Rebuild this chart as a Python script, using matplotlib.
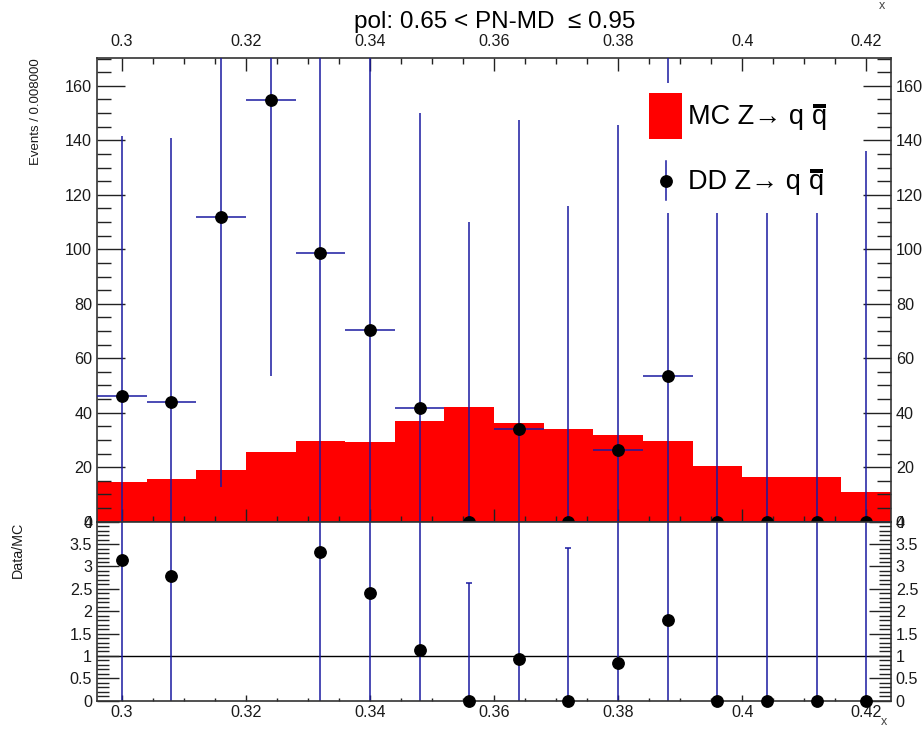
import numpy as np
import matplotlib
matplotlib.use("Agg")
import matplotlib.pyplot as plt
from matplotlib.ticker import FixedLocator, FuncFormatter
from matplotlib.patches import Rectangle

plt.rcParams['font.family'] = ['Liberation Sans', 'DejaVu Sans']

# ---------------- data ----------------
bin_edges = [0.296, 0.304, 0.312, 0.320, 0.328, 0.336, 0.344, 0.352, 0.360,
             0.368, 0.376, 0.384, 0.392, 0.400, 0.408, 0.416, 0.424]
bin_centers = [0.300, 0.308, 0.316, 0.324, 0.332, 0.340, 0.348, 0.356,
               0.364, 0.372, 0.380, 0.388, 0.396, 0.404, 0.412, 0.420]
mc_values = [14.7, 15.7, 19.1, 25.4, 29.7, 29.2, 36.9, 42.0,
             36.4, 34.0, 31.8, 29.7, 20.4, 16.3, 16.3, 11.0]
data_values = [46.3, 43.9, 112.0, 154.9, 98.5, 70.4, 41.7, 0.0,
               34.2, 0.0, 26.5, 53.4, 0.0, 0.0, 0.0, 0.0]
data_errors = [95.2, 97.0, 99.1, 101.3, 103.5, 106.0, 108.2, 110.1,
               113.4, 115.8, 119.0, 122.0, 128.0, 130.0, 132.0, 136.0]
x_ticks = [0.30, 0.32, 0.34, 0.36, 0.38, 0.40, 0.42]
main_yticks = [0, 20, 40, 60, 80, 100, 120, 140, 160]
ratio_yticks = [0, 0.5, 1, 1.5, 2, 2.5, 3, 3.5, 4]
title = "pol: 0.65 < PN-MD  \u2264 0.95"
legend_prefixes = ["MC Z\u2192 q", "DD Z\u2192 q"]

# ---------------- styling ----------------
W, H = 922, 729
fig = plt.figure(figsize=(W / 100, H / 100), dpi=100)
L, R = 97, 891
main_top, main_bot = 58, 521.7
rat_bot = 700.7


def rect(top, bot):
    return [L / W, 1 - bot / H, (R - L) / W, (bot - top) / H]


ax = fig.add_axes(rect(main_top, main_bot))
axr = fig.add_axes(rect(main_bot, rat_bot))

err_col = '#1a1aa0'
spine_col = '#333333'
lab_col = '#1a1a1a'
xlo, xhi = bin_edges[0], bin_edges[-1]
width = bin_edges[1] - bin_edges[0]

# main panel
ax.bar(bin_centers, mc_values, width=width, color='#ff0000', linewidth=0, zorder=1)
ax.errorbar(bin_centers, data_values, yerr=data_errors, xerr=width / 2,
            fmt='o', color='black', ecolor=err_col, elinewidth=1.1,
            markersize=8.2, capsize=0, zorder=3)
ax.set_xlim(xlo, xhi)
ax.set_ylim(0, 170.2)

# ratio panel
ratio = np.array(data_values) / np.array(mc_values)
ratio_err = np.array(data_errors) / np.array(mc_values)
show = ratio <= 4.0
xc = np.array(bin_centers)
axr.errorbar(xc[show], ratio[show], yerr=ratio_err[show], fmt='none',
             ecolor=err_col, elinewidth=1.1, capsize=2.5, capthick=1.1, zorder=2)
axr.plot(xc[show], ratio[show], 'o', color='black', markersize=8.2,
         clip_on=False, zorder=4)
axr.axhline(1.0, color='black', lw=1.0, zorder=1)
axr.set_xlim(xlo, xhi)
axr.set_ylim(0, 4)

fmt = FuncFormatter(lambda v, p: '%g' % round(v, 4))
minor_x = [round(0.300 + 0.005 * i, 3) for i in range(25)]

for a in (ax, axr):
    for s in a.spines.values():
        s.set_color(spine_col)
        s.set_linewidth(1.2)
    a.xaxis.set_major_locator(FixedLocator(x_ticks))
    a.xaxis.set_minor_locator(FixedLocator(minor_x))
    a.xaxis.set_major_formatter(fmt)
    a.yaxis.set_major_formatter(fmt)

ax.yaxis.set_major_locator(FixedLocator(main_yticks))
ax.yaxis.set_minor_locator(FixedLocator(list(range(0, 171, 5))))
axr.yaxis.set_major_locator(FixedLocator(ratio_yticks))
axr.yaxis.set_minor_locator(FixedLocator([round(0.1 * i, 1) for i in range(41)]))

ax.tick_params(axis='x', which='major', direction='in', length=9.3, width=1.0,
               top=True, bottom=True, labeltop=True, labelbottom=False,
               labelsize=11.6, labelcolor=lab_col, pad=6.5, color='#222')
ax.tick_params(axis='x', which='minor', direction='in', length=4.6, width=1.0,
               top=True, bottom=True, color='#222')
ax.tick_params(axis='y', which='major', direction='in', length=20, width=1.0,
               left=True, right=True, labelleft=True, labelright=True,
               labelsize=11.6, labelcolor=lab_col, pad=3.5, color='#222')
ax.tick_params(axis='y', which='minor', direction='in', length=10, width=1.0,
               left=True, right=True, color='#222')

axr.tick_params(axis='x', which='major', direction='in', length=4.5, width=1.0,
                top=False, bottom=True, labelbottom=True, labelsize=11.6,
                labelcolor=lab_col, pad=3, color='#222')
axr.tick_params(axis='x', which='minor', direction='in', length=2.5, width=1.0,
                top=False, bottom=True, color='#222')
axr.tick_params(axis='y', which='major', direction='in', length=15.8, width=1.0,
                left=True, right=True, labelleft=True, labelright=True,
                labelsize=11.6, labelcolor=lab_col, pad=3.5, color='#222')
axr.tick_params(axis='y', which='minor', direction='in', length=8.6, width=1.0,
                left=True, right=True, color='#222')

# ---------------- legend (white box without border) ----------------
inv = ax.transAxes.inverted()


def to_ax(px, py):
    return inv.transform((px, H - py))


lx0, ly0 = to_ax(635, 213)
lx1, ly1 = to_ax(860, 83)
ax.add_patch(Rectangle((lx0, ly0), lx1 - lx0, ly1 - ly0, transform=ax.transAxes,
                       facecolor='white', edgecolor='none', zorder=5))
bx0, by0 = to_ax(649, 139)
bx1, by1 = to_ax(682, 93)
ax.add_patch(Rectangle((bx0, by0), bx1 - bx0, by1 - by0, transform=ax.transAxes,
                       facecolor='#ff0000', edgecolor='none', zorder=6))
mx, my = to_ax(666, 180.7)
_, ey0 = to_ax(666, 200)
_, ey1 = to_ax(666, 160.7)
ax.plot([mx, mx], [ey0, ey1], transform=ax.transAxes, color=err_col, lw=1.1,
        zorder=6, clip_on=False)
ax.plot([mx], [my], 'o', color='black', markersize=8.2, transform=ax.transAxes,
        zorder=7, clip_on=False)

renderer = fig.canvas.get_renderer()
fs = 19.5
for prefix, base in zip(legend_prefixes, [124, 189]):
    tx, ty = to_ax(688, base)
    t1 = ax.text(tx, ty, prefix, transform=ax.transAxes, fontsize=fs,
                 ha='left', va='baseline', zorder=7)
    bb = t1.get_window_extent(renderer)
    space = 0.30 * fs * 100 / 72
    qx = inv.transform((bb.x1 + space, 0))[0]
    t2 = ax.text(qx, ty, 'q', transform=ax.transAxes, fontsize=fs,
                 ha='left', va='baseline', zorder=7)
    bb2 = t2.get_window_extent(renderer)
    (ox0, oy0) = inv.transform((bb2.x0 + 1, H - base + 16.5))
    (ox1, oy1) = inv.transform((bb2.x1 - 1, H - base + 20.0))
    ax.add_patch(Rectangle((ox0, oy0), ox1 - ox0, oy1 - oy0, transform=ax.transAxes,
                           facecolor='black', edgecolor='none', zorder=7))

# ---------------- texts ----------------
fig.text(495 / W, 1 - 22 / H, title, fontsize=17.5, ha='center', va='center')
fig.text(35.7 / W, 1 - 58 / H, 'Events / 0.008000', rotation=90, fontsize=9.5,
         ha='center', va='top', color=lab_col)
fig.text(18 / W, 1 - 522 / H, 'Data/MC', rotation=90, fontsize=10.3,
         ha='center', va='top', color=lab_col)
fig.text(882 / W, 1 - 6 / H, 'x', fontsize=9, ha='center', va='center', color='#444')
fig.text(884 / W, 1 - 722 / H, 'x', fontsize=9, ha='center', va='center', color='#444')

fig.savefig('out.png', dpi=100)
